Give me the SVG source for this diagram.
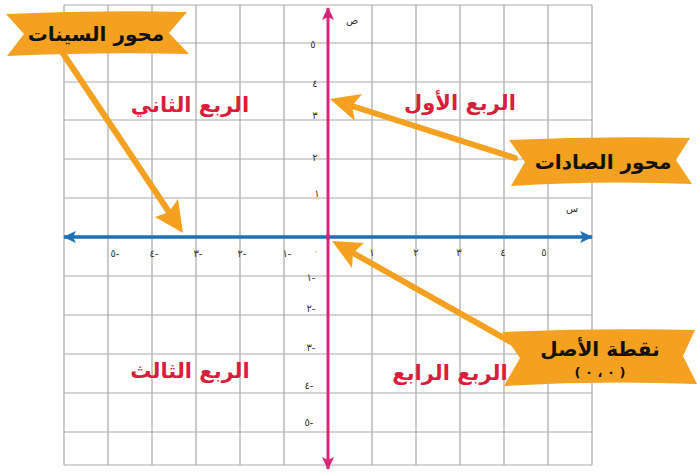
<svg xmlns="http://www.w3.org/2000/svg" width="697" height="473" viewBox="0 0 697 473">
<style>
.grid{stroke:#a9a9a9;stroke-width:1.2;fill:none}
.ar{font-family:"DejaVu Sans",sans-serif;font-weight:bold}
.quad{fill:#d81e3a;font-size:21px;text-anchor:middle}
.ban{fill:#f4a020}
.bt{fill:#111;font-size:20px;text-anchor:middle}
.num{font-family:"DejaVu Sans",sans-serif;font-size:10px;fill:#333;text-anchor:middle;unicode-bidi:bidi-override;direction:ltr}
.pt{stroke:#f4a020;stroke-width:6;stroke-linecap:round;fill:none}
.ph{fill:#f4a020}
</style>
<defs>
<marker id="bh" markerUnits="userSpaceOnUse" markerWidth="14" markerHeight="14" refX="12" refY="7" orient="auto">
<path d="M0,1 L13,7 L0,13 L3,7 Z" fill="#1f6fb4"/>
</marker>
<marker id="mh" markerUnits="userSpaceOnUse" markerWidth="14" markerHeight="14" refX="12" refY="7" orient="auto">
<path d="M0,1 L13,7 L0,13 L3,7 Z" fill="#d8247a"/>
</marker>
</defs>
<rect width="697" height="473" fill="#fff"/>
<g id="grid" class="grid">
<path d="M64,5V465M108,5V465M152,5V465M196,5V465M240,5V465M284,5V465M372,5V465M416,5V465M460,5V465M504,5V465M548,5V465M592,5V465"/>
<path d="M64,5H592M64,43H592M64,82H592M64,120H592M64,159H592M64,198H592M64,276H592M64,315H592M64,354H592M64,393H592M64,432H592M64,465H592"/>
</g>
<g id="axes">
<line x1="330" y1="237" x2="64" y2="237" stroke="#1f6fb4" stroke-width="3.5" marker-end="url(#bh)"/>
<line x1="326" y1="237" x2="592" y2="237" stroke="#1f6fb4" stroke-width="3.5" marker-end="url(#bh)"/>
<line x1="328" y1="240" x2="328" y2="8" stroke="#d8247a" stroke-width="3" marker-end="url(#mh)"/>
<line x1="328" y1="234" x2="328" y2="469" stroke="#d8247a" stroke-width="3" marker-end="url(#mh)"/>
</g>
<g id="labels">
<text class="num" x="352" y="24">ص</text>
<text class="num" x="572" y="212">س</text>
<text class="num" x="115" y="257">٥-</text>
<text class="num" x="154" y="257">٤-</text>
<text class="num" x="198" y="257">٣-</text>
<text class="num" x="242" y="257">٢-</text>
<text class="num" x="287" y="257">١-</text>
<text class="num" x="316" y="254" style="fill:#e8a050">٠</text>
<text class="num" x="372" y="256">١</text>
<text class="num" x="416" y="256">٢</text>
<text class="num" x="459" y="256">٣</text>
<text class="num" x="503" y="256">٤</text>
<text class="num" x="544" y="256">٥</text>
<text class="num" x="313" y="48">٥</text>
<text class="num" x="315" y="87">٤</text>
<text class="num" x="315" y="119">٣</text>
<text class="num" x="315" y="161">٢</text>
<text class="num" x="317" y="197">١</text>
<text class="num" x="311" y="281">١-</text>
<text class="num" x="311" y="312">٢-</text>
<text class="num" x="311" y="351">٣-</text>
<text class="num" x="309" y="389">٤-</text>
<text class="num" x="309" y="426">٥-</text>
</g>
<g id="quadrants" class="ar">
<text class="quad" x="190" y="112">الربع الثاني</text>
<text class="quad" x="460" y="110">الربع الأول</text>
<text class="quad" x="190" y="378">الربع الثالث</text>
<text class="quad" x="450" y="380">الربع الرابع</text>
</g>
<g id="connectors">
<line class="pt" x1="62" y1="52" x2="169" y2="212"/>
<polygon class="ph" points="183,233 155,217 169,212 178,199"/>
<line class="pt" x1="515" y1="158" x2="352" y2="106"/>
<polygon class="ph" points="330,99 362,94 352,106 355,121"/>
<line class="pt" x1="518" y1="346" x2="353" y2="253"/>
<polygon class="ph" points="332,241 364,243 353,253 352,268"/>
</g>
<g id="banner-x">
<path class="ban" d="M6,14 Q95,10 187,12 L169,33 L189,54 Q95,52 7,56 L24,34 Z"/>
<text class="ar bt" x="96" y="41">محور السينات</text>
</g>
<g id="banner-y">
<path class="ban" d="M509,140 Q600,136 690,138 L676,160 L692,184 Q600,180 511,186 L525,162 Z"/>
<text class="ar bt" x="603" y="169">محور الصادات</text>
</g>
<g id="banner-origin">
<path class="ban" d="M502,332 Q600,328 695,330 L683,356 L697,384 Q600,380 504,386 L520,358 Z"/>
<text class="ar bt" x="600" y="356">نقطة الأصل</text>
<text class="ar bt" x="600" y="377" style="font-size:13px">( ٠ ، ٠ )</text>
</g>
</svg>
